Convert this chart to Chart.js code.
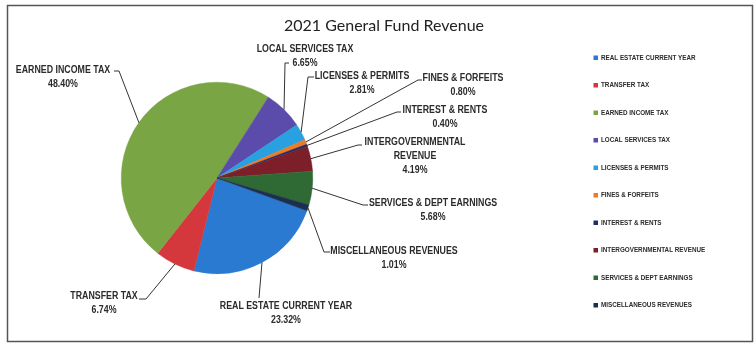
<!DOCTYPE html>
<html>
<head>
<meta charset="utf-8">
<title>2021 General Fund Revenue</title>
<script src="https://cdn.jsdelivr.net/npm/chart.js@4.4.1/dist/chart.umd.min.js"></script>
<style>
  html, body { margin: 0; padding: 0; background: #fff; }
  #wrap { width: 755px; height: 344px; }
</style>
</head>
<body>
<div id="wrap"><canvas id="revenue-pie" width="755" height="344"></canvas></div>
<script>
/* ---- Revenue data ---- */
const categories = [
    'REAL ESTATE CURRENT YEAR',
    'TRANSFER TAX',
    'EARNED INCOME TAX',
    'LOCAL SERVICES TAX',
    'LICENSES & PERMITS',
    'FINES & FORFEITS',
    'INTEREST & RENTS',
    'INTERGOVERNMENTAL REVENUE',
    'SERVICES & DEPT EARNINGS',
    'MISCELLANEOUS REVENUES'
];
const sharePct = [23.32, 6.74, 48.40, 6.65, 2.81, 0.80, 0.40, 4.19, 5.68, 1.01];

const sliceColors = [
    '#2a7ad2', '#d4383d', '#7aa545', '#5b4cab', '#29a0e0',
    '#f07a22', '#1f2d6e', '#7c1f28', '#2f6a35', '#1d2f4f'
];

/* ---- Label placement: text centre, leader elbow and stub end ---- */
const labelLayout = [
    { x: 286, y: 306, elbow: [259, 298], stub: [259, 298] },
    { x: 104, y: 296, elbow: [146, 299], stub: [139, 299] },
    { x: 63,  y: 70,  elbow: [119, 71],  stub: [114, 71] },
    { x: 305, y: 49,  elbow: [285, 63],  stub: [289, 63] },
    { x: 362, y: 76,  elbow: [308, 77],  stub: [314, 77] },
    { x: 463, y: 78,  elbow: [418, 80],  stub: [422, 80] },
    { x: 445, y: 110, elbow: [397, 112], stub: [401, 112] },
    { x: 415, y: 142, elbow: [358, 145], stub: [362, 145], wrap: true },
    { x: 433, y: 203, elbow: [363, 205], stub: [368, 205] },
    { x: 394, y: 251, elbow: [324, 252], stub: [330, 252] }
];

const TEXT_DARK = '#2b2b2b';
const LABEL_FONT = 'bold 10.5px "Liberation Sans", Arial, sans-serif';
const LEGEND_FONT = 'bold 7px "Liberation Sans", Arial, sans-serif';

// squeeze text a little so it reads like a condensed face
function narrowText(ctx, text, x, y, squeeze) {
    ctx.fillText(text, x, y, ctx.measureText(text).width * squeeze);
}

const decorPlugin = {
    id: 'decor',
    afterDraw(chart) {
        const ctx = chart.ctx;
        const arcs = chart.getDatasetMeta(0).data;
        ctx.save();

        // frame around the chart object
        ctx.strokeStyle = '#555';
        ctx.lineWidth = 1.5;
        ctx.strokeRect(7.5, 5.5, 745, 336);

        // title
        ctx.fillStyle = '#222';
        ctx.font = '16px Lato, "Open Sans", sans-serif';
        ctx.textAlign = 'center';
        ctx.textBaseline = 'middle';
        ctx.fillText('2021 General Fund Revenue', 384, 26);

        // leader lines and data labels
        ctx.strokeStyle = '#333';
        ctx.lineWidth = 1;
        ctx.font = LABEL_FONT;
        ctx.fillStyle = TEXT_DARK;
        arcs.forEach((arc, i) => {
            const p = arc.getProps(['x', 'y', 'startAngle', 'endAngle', 'outerRadius'], true);
            const mid = (p.startAngle + p.endAngle) / 2;
            const ex = p.x + Math.cos(mid) * p.outerRadius;
            const ey = p.y + Math.sin(mid) * p.outerRadius;
            const lay = labelLayout[i];

            ctx.beginPath();
            ctx.moveTo(ex, ey);
            ctx.lineTo(lay.elbow[0], lay.elbow[1]);
            ctx.lineTo(lay.stub[0], lay.stub[1]);
            ctx.stroke();

            const name = categories[i];
            let lines = [name];
            if (lay.wrap) {
                const cut = name.lastIndexOf(' ');
                lines = [name.slice(0, cut), name.slice(cut + 1)];
            }
            lines.push(sharePct[i].toFixed(2) + '%');
            lines.forEach((t, k) => narrowText(ctx, t, lay.x, lay.y + k * 14, 0.84));
        });

        // legend down the right side
        ctx.font = LEGEND_FONT;
        ctx.textAlign = 'left';
        categories.forEach((name, i) => {
            const y = 58 + i * 27.5;
            ctx.fillStyle = sliceColors[i];
            ctx.fillRect(593.5, y - 2.5, 4.5, 4.5);
            ctx.fillStyle = TEXT_DARK;
            narrowText(ctx, name, 601, y, 0.9);
        });

        ctx.restore();
    }
};

new Chart(document.getElementById('revenue-pie'), {
    type: 'pie',
    data: {
        labels: categories,
        datasets: [{
            data: sharePct,
            backgroundColor: sliceColors,
            borderColor: sliceColors,
            borderWidth: 0.5
        }]
    },
    options: {
        responsive: false,
        devicePixelRatio: 1,
        animation: false,
        rotation: 110,
        layout: { padding: { left: 121, right: 442, top: 82, bottom: 70 } },
        plugins: {
            legend: { display: false },
            tooltip: { enabled: false },
            title: { display: false }
        }
    },
    plugins: [decorPlugin]
});
</script>
</body>
</html>
